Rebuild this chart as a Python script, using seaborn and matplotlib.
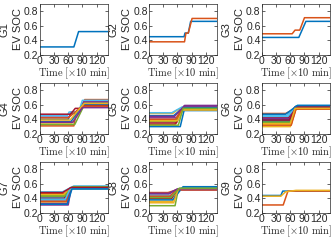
"""EV SOC trajectories per group, 3x3 grid."""
import pandas as pd
import matplotlib
matplotlib.use("Agg")
import matplotlib.pyplot as plt
import seaborn as sns

# MATLAB default colour order
colors = ['#0072BD', '#D95319', '#EDB120', '#7E2F8E', '#77AC30', '#4DBEEE', '#A2142F']

# each curve: (breakpoint times [x10 min], SOC at those times)
G1 = [([0, 72, 82, 144], [0.31, 0.31, 0.52, 0.52])]
G2 = [
    ([0, 74, 76, 83, 88, 144], [0.45, 0.45, 0.50, 0.50, 0.66, 0.66]),
    ([0, 75, 78, 83, 91, 144], [0.38, 0.38, 0.50, 0.50, 0.70, 0.70]),
]
G3 = [
    ([0, 78, 93, 144], [0.44, 0.44, 0.66, 0.66]),
    ([0, 64, 70, 80, 90, 144], [0.49, 0.49, 0.54, 0.54, 0.71, 0.71]),
]
G4 = [
    ([0, 60, 66, 80, 92, 144], [0.40, 0.40, 0.48, 0.48, 0.63, 0.63]),
    ([0, 72, 78, 85, 95, 144], [0.31, 0.31, 0.52, 0.52, 0.67, 0.67]),
    ([0, 68, 95, 144], [0.35, 0.35, 0.60, 0.60]),
    ([0, 62, 66, 85, 93, 144], [0.43, 0.43, 0.50, 0.50, 0.64, 0.64]),
    ([0, 74, 92, 144], [0.33, 0.33, 0.57, 0.57]),
    ([0, 58, 62, 82, 90, 144], [0.45, 0.45, 0.50, 0.50, 0.66, 0.66]),
    ([0, 65, 75, 88, 95, 144], [0.47, 0.47, 0.55, 0.55, 0.59, 0.59]),
    ([0, 66, 92, 144], [0.37, 0.37, 0.61, 0.61]),
    ([0, 60, 90, 144], [0.42, 0.42, 0.58, 0.58]),
    ([0, 64, 94, 144], [0.39, 0.39, 0.62, 0.62]),
    ([0, 70, 90, 144], [0.36, 0.36, 0.56, 0.56]),
]
G5 = [
    ([0, 66, 74, 144], [0.30, 0.30, 0.52, 0.52]),
    ([0, 55, 70, 144], [0.33, 0.33, 0.55, 0.55]),
    ([0, 50, 60, 144], [0.48, 0.48, 0.53, 0.53]),
    ([0, 58, 75, 144], [0.42, 0.42, 0.59, 0.59]),
    ([0, 55, 72, 144], [0.37, 0.37, 0.56, 0.56]),
    ([0, 48, 70, 144], [0.49, 0.49, 0.57, 0.57]),
    ([0, 58, 72, 144], [0.35, 0.35, 0.55, 0.55]),
    ([0, 52, 72, 144], [0.45, 0.45, 0.56, 0.56]),
    ([0, 56, 70, 144], [0.40, 0.40, 0.54, 0.54]),
    ([0, 60, 72, 144], [0.38, 0.38, 0.53, 0.53]),
    ([0, 54, 74, 144], [0.44, 0.44, 0.58, 0.58]),
    ([0, 62, 72, 144], [0.32, 0.32, 0.55, 0.55]),
]
G6 = [
    ([0, 58, 72, 144], [0.40, 0.40, 0.58, 0.58]),
    ([0, 50, 72, 144], [0.48, 0.48, 0.55, 0.55]),
    ([0, 60, 72, 144], [0.30, 0.30, 0.54, 0.54]),
    ([0, 55, 70, 144], [0.43, 0.43, 0.57, 0.57]),
    ([0, 58, 72, 144], [0.37, 0.37, 0.56, 0.56]),
    ([0, 52, 75, 144], [0.45, 0.45, 0.59, 0.59]),
    ([0, 56, 70, 144], [0.42, 0.42, 0.57, 0.57]),
    ([0, 60, 74, 144], [0.38, 0.38, 0.58, 0.58]),
    ([0, 62, 72, 144], [0.35, 0.35, 0.55, 0.55]),
    ([0, 62, 70, 144], [0.33, 0.33, 0.54, 0.54]),
    ([0, 58, 72, 144], [0.41, 0.41, 0.56, 0.56]),
    ([0, 60, 72, 144], [0.36, 0.36, 0.55, 0.55]),
    ([0, 55, 72, 144], [0.44, 0.44, 0.58, 0.58]),
    ([0, 58, 72, 144], [0.39, 0.39, 0.57, 0.57]),
    ([0, 50, 75, 144], [0.47, 0.47, 0.59, 0.59]),
    ([0, 62, 72, 144], [0.32, 0.32, 0.54, 0.54]),
    ([0, 60, 70, 144], [0.34, 0.34, 0.55, 0.55]),
]
G7 = [
    ([0, 55, 70, 144], [0.42, 0.42, 0.56, 0.56]),
    ([0, 52, 68, 144], [0.47, 0.47, 0.54, 0.54]),
    ([0, 56, 62, 144], [0.35, 0.35, 0.53, 0.53]),
    ([0, 60, 66, 144], [0.31, 0.31, 0.53, 0.53]),
    ([0, 50, 66, 144], [0.44, 0.44, 0.54, 0.54]),
    ([0, 48, 72, 144], [0.49, 0.49, 0.57, 0.57]),
    ([0, 52, 64, 144], [0.40, 0.40, 0.54, 0.54]),
    ([0, 54, 68, 144], [0.38, 0.38, 0.55, 0.55]),
    ([0, 56, 66, 144], [0.36, 0.36, 0.54, 0.54]),
    ([0, 50, 64, 144], [0.45, 0.45, 0.53, 0.53]),
    ([0, 58, 66, 144], [0.33, 0.33, 0.54, 0.54]),
    ([0, 52, 70, 144], [0.43, 0.43, 0.56, 0.56]),
    ([0, 54, 64, 144], [0.39, 0.39, 0.53, 0.53]),
    ([0, 48, 66, 144], [0.48, 0.48, 0.55, 0.55]),
    ([0, 58, 68, 144], [0.32, 0.32, 0.53, 0.53]),
]
G8 = [
    ([0, 45, 72, 144], [0.42, 0.42, 0.55, 0.55]),
    ([0, 40, 60, 144], [0.48, 0.48, 0.52, 0.52]),
    ([0, 50, 62, 144], [0.36, 0.36, 0.53, 0.53]),
    ([0, 42, 58, 144], [0.46, 0.46, 0.52, 0.52]),
    ([0, 55, 62, 144], [0.30, 0.30, 0.53, 0.53]),
    ([0, 45, 66, 144], [0.44, 0.44, 0.54, 0.54]),
    ([0, 48, 60, 144], [0.40, 0.40, 0.52, 0.52]),
    ([0, 50, 72, 144], [0.38, 0.38, 0.56, 0.56]),
    ([0, 44, 58, 144], [0.43, 0.43, 0.52, 0.52]),
    ([0, 52, 62, 144], [0.34, 0.34, 0.53, 0.53]),
    ([0, 42, 60, 144], [0.47, 0.47, 0.53, 0.53]),
    ([0, 46, 64, 144], [0.41, 0.41, 0.54, 0.54]),
]
G9 = [
    ([0, 40, 44, 144], [0.44, 0.44, 0.50, 0.50]),
    ([0, 45, 55, 144], [0.31, 0.31, 0.50, 0.50]),
    ([0, 40, 50, 72, 144], [0.43, 0.43, 0.49, 0.51, 0.51]),
]
groups = [G1, G2, G3, G4, G5, G6, G7, G8, G9]
group_names = ['G1', 'G2', 'G3', 'G4', 'G5', 'G6', 'G7', 'G8', 'G9']
x_ticks = [0, 30, 60, 90, 120]
y_ticks = [0.2, 0.4, 0.6, 0.8]

sns.set_theme(style='ticks')
plt.rcParams['font.family'] = ['Liberation Sans', 'DejaVu Sans']
plt.rcParams['mathtext.fontset'] = 'cm'

fig = plt.figure(figsize=(3.32, 2.40), dpi=100)
lefts = [0.120, 0.449, 0.789]
bottoms = [0.771, 0.442, 0.1125]
w, h = 0.205, 0.213

for i, (curves, name) in enumerate(zip(groups, group_names)):
    ax = fig.add_axes([lefts[i % 3], bottoms[i // 3], w, h])
    rows = []
    for k, (t, soc) in enumerate(curves):
        for tt, ss in zip(t, soc):
            rows.append({'t': tt, 'soc': ss, 'ev': k})
    df = pd.DataFrame(rows)
    pal = [colors[k % len(colors)] for k in range(len(curves))]
    sns.lineplot(data=df, x='t', y='soc', hue='ev', palette=pal, estimator=None,
                 sort=False, legend=False, linewidth=1.1, ax=ax)
    ax.set_xlim(0, 144)
    ax.set_ylim(0.2, 0.9)
    ax.set_xticks(x_ticks)
    ax.set_yticks(y_ticks)
    ax.set_yticklabels([f'{v:.1f}' for v in y_ticks])
    ax.tick_params(direction='in', length=2, width=0.5, labelsize=7.5, pad=1,
                   top=True, right=True, colors='#262626')
    for sp in ax.spines.values():
        sp.set_linewidth(0.5)
        sp.set_color('#262626')
    ax.set_xlabel(r'$\mathrm{Time\ [\times 10\ min]}$', fontsize=7.5, labelpad=-0.5)
    ax.set_ylabel(f'{name}\nEV SOC', fontsize=8, labelpad=1, linespacing=1.35)

fig.savefig('out.png', dpi=100)
